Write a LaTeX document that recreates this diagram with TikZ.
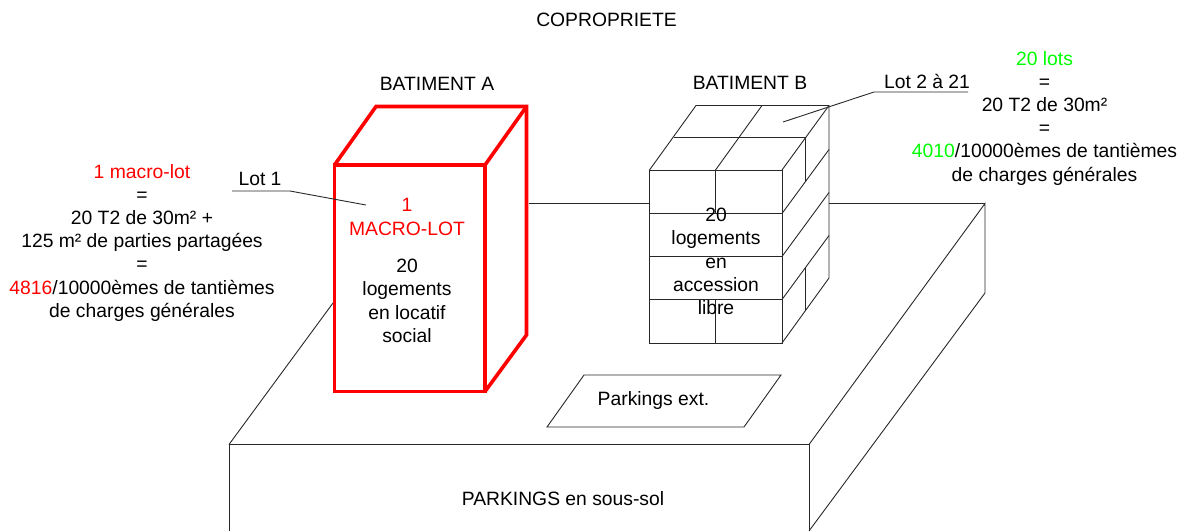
\documentclass[tikz,border=0pt]{standalone}
\usepackage{fontspec}
\setmainfont{Liberation Sans}
\definecolor{rd}{RGB}{255,0,0}
\definecolor{gn}{RGB}{0,255,0}
\definecolor{ln}{RGB}{40,40,40}
\tikzset{
  wire/.style={draw=ln,line width=0.9pt,line join=miter},
  redwire/.style={draw=rd,line width=3.6pt,line join=miter},
  lbl/.style={inner sep=0pt,align=center,font=\fontsize{19.3}{23.2}\selectfont,text=black}
}
\begin{document}
\begin{tikzpicture}[x=1pt,y=-1pt]
\useasboundingbox (0,0) rectangle (1184,531);
% base
\coordinate (bl) at (229,444.5); \coordinate (br) at (809,444.5);
\draw[wire] (229,531) -- (bl) -- (br) -- (809,531);
\draw[wire] (bl) -- (333,303);
\draw[wire] (br) -- (985,203.5) -- (985,293) -- (809,531);
\draw[wire] (985,203.5) -- (829,203.5);
\draw[wire] (529,203.5) -- (650,203.5);
% parkings ext
\draw[wire] (584,375) -- (781,375) -- (744,427) -- (547,427) -- cycle;
% batiment B
\draw[wire] (649.5,170) rectangle (782,343);
\draw[wire] (649.5,213.5) -- (782,213.5);
\draw[wire] (649.5,256.5) -- (782,256.5);
\draw[wire] (649.5,299.5) -- (782,299.5);
\draw[wire] (715.5,170) -- (715.5,213.5);
\draw[wire] (715.5,299.5) -- (715.5,343);
\draw[wire] (649.5,170) -- (696,105.5) -- (829,105.5) -- (829,278) -- (782,343);
\draw[wire] (782,170) -- (829,105.5);
\draw[wire] (782,213.5) -- (829,149.5);
\draw[wire] (782,256.5) -- (829,192.5);
\draw[wire] (782,299.5) -- (829,235.5);
\draw[wire] (715.5,170) -- (762,105.5);
\draw[wire] (674,137) -- (805,137) -- (805,181);
\draw[wire] (805,267) -- (805,310);
\draw[wire] (783,122) -- (874,92) -- (968,92);
% batiment A
\draw[redwire] (334.5,165) rectangle (485,391.5);
\draw[redwire] (334.5,165) -- (376,106.5) -- (526.5,106.5) -- (526.5,335) -- (485,391.5);
\draw[redwire] (485,165) -- (526.5,106.5);
\draw[wire] (232,191) -- (290,191) -- (366,205);
% texts
\node[lbl] (t0) at (606.5,20) {COPROPRIETE};
\node[lbl] (ta) at (437,84) {BATIMENT A};
\node[lbl] (tb) at (750,83) {BATIMENT B};
\node[lbl] (lot1) at (260,179) {Lot 1};
\node[lbl] (lot2) at (927,81) {Lot 2 à 21};
\node[lbl,anchor=north] (tl) at (142,164) {\textcolor{rd}{1 macro-lot}\\=\\20 T2 de 30m² +\\125 m² de parties partagées\\=\\\textcolor{rd}{4816}/10000èmes de tantièmes\\de charges générales};
\node[lbl,anchor=north] (tr) at (1044.5,51) {\textcolor{gn}{20 lots}\\=\\20 T2 de 30m²\\=\\\textcolor{gn}{4010}/10000èmes de tantièmes\\de charges générales};
\node[lbl,anchor=north] (ma) at (407,198.5) {\textcolor{rd}{1}\\\textcolor{rd}{MACRO-LOT}};
\node[lbl,anchor=north] (la) at (407,259) {20\\logements\\en locatif\\social};
\node[lbl,anchor=north] (lb) at (716,208) {20\\logements\\en\\accession\\libre};
\node[lbl] (pe) at (653.5,401) {Parkings ext.};
\node[lbl] (ps) at (563,499) {PARKINGS en sous-sol};
\end{tikzpicture}
\end{document}
